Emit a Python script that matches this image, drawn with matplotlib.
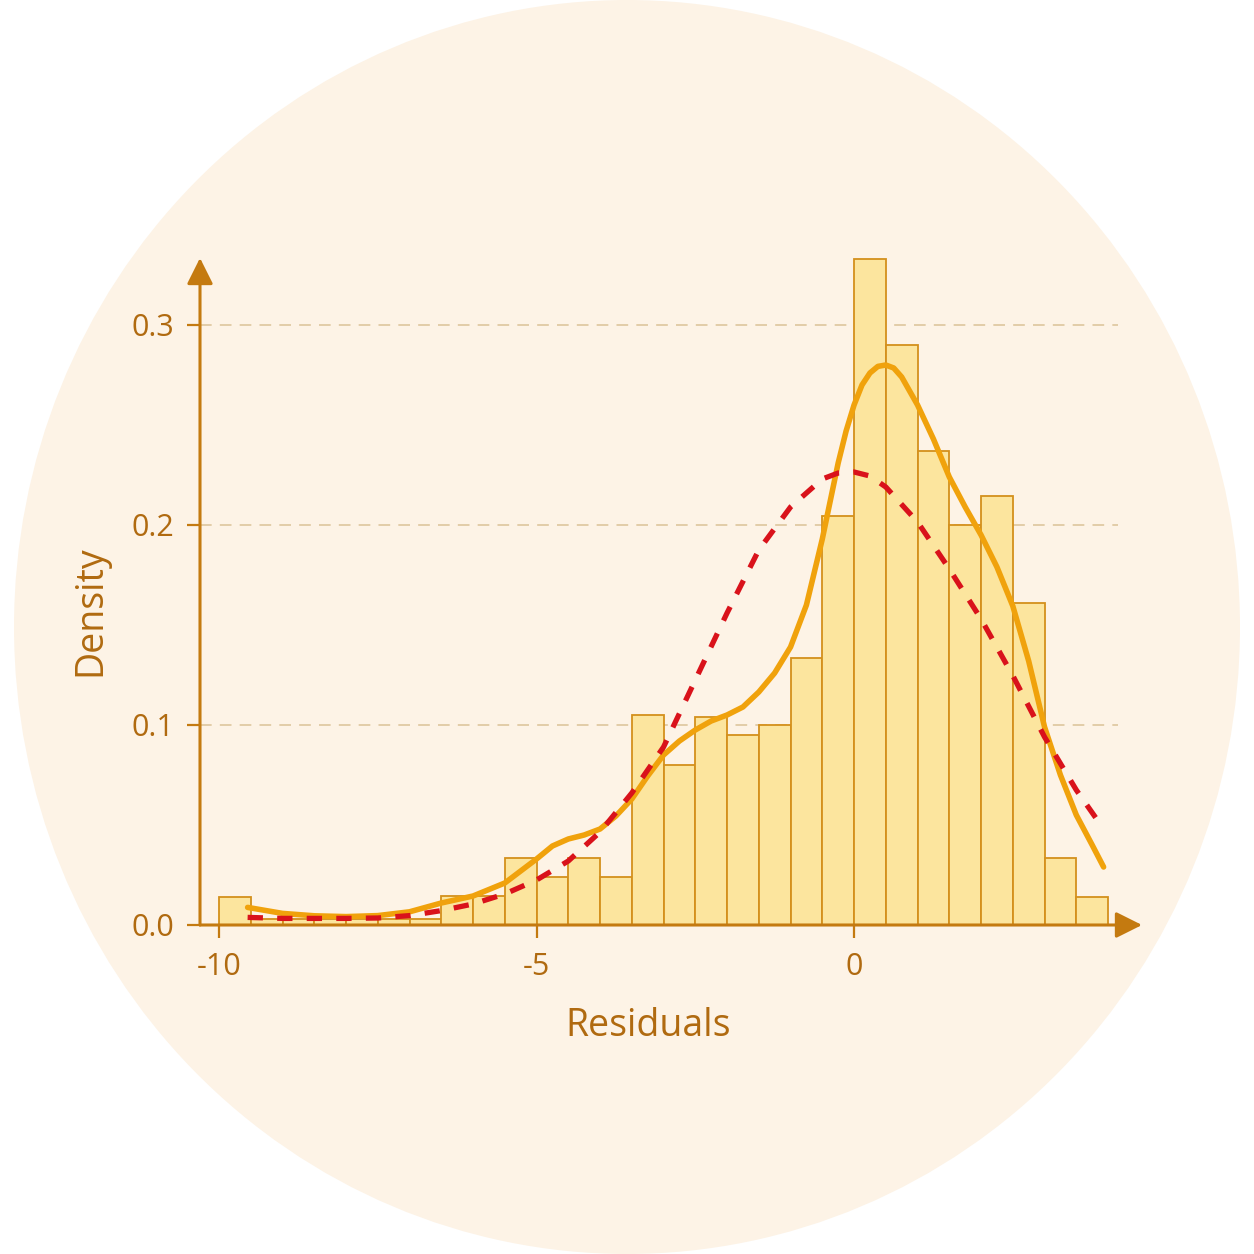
import matplotlib
matplotlib.use("Agg")
import matplotlib.pyplot as plt
from matplotlib.patches import Ellipse

# histogram bins (left edges, width 0.5) and densities
bin_edges = [-10.0, -9.5, -9.0, -8.5, -8.0, -7.5, -7.0, -6.5, -6.0, -5.5,
             -5.0, -4.5, -4.0, -3.5, -3.0, -2.5, -2.0, -1.5, -1.0, -0.5,
             0.0, 0.5, 1.0, 1.5, 2.0, 2.5, 3.0, 3.5, 4.0]
bin_density = [0.014, 0.003, 0.003, 0.003, 0.003, 0.003, 0.003, 0.0145, 0.0145,
               0.0335, 0.024, 0.0335, 0.024, 0.105, 0.080, 0.104, 0.095, 0.100,
               0.1335, 0.2045, 0.333, 0.290, 0.237, 0.200, 0.2145, 0.161,
               0.0335, 0.014]

# kernel density curve (solid orange)
kde_x = [-9.55, -9.0, -8.5, -8.0, -7.5, -7.0, -6.5, -6.0, -5.5, -5.0, -4.75,
         -4.5, -4.25, -4.0, -3.75, -3.5, -3.25, -3.0, -2.75, -2.5, -2.25, -2.0,
         -1.75, -1.5, -1.25, -1.0, -0.75, -0.5, -0.375, -0.25, -0.125, 0.0,
         0.125, 0.25, 0.375, 0.5, 0.625, 0.75, 1.0, 1.25, 1.5, 1.75, 2.0, 2.25,
         2.5, 2.75, 3.0, 3.25, 3.5, 3.75, 3.93]
kde_y = [0.0088, 0.0058, 0.0046, 0.0042, 0.0047, 0.0066, 0.0110, 0.0145, 0.0210,
         0.0330, 0.0395, 0.0430, 0.0450, 0.0480, 0.0545, 0.0630, 0.0745, 0.0850,
         0.0920, 0.0975, 0.1020, 0.1050, 0.1090, 0.1165, 0.1260, 0.1390, 0.1600,
         0.1930, 0.2120, 0.2310, 0.2470, 0.2600, 0.2700, 0.2760, 0.2793, 0.2800,
         0.2785, 0.2740, 0.2600, 0.2430, 0.2240, 0.2090, 0.1950, 0.1790, 0.1595,
         0.1320, 0.0990, 0.0750, 0.0550, 0.0400, 0.0290]

# normal fit curve (dashed red)
norm_x = [-9.55, -9.0, -8.5, -8.0, -7.5, -7.0, -6.5, -6.0, -5.5, -5.0, -4.5,
          -4.0, -3.5, -3.0, -2.5, -2.0, -1.5, -1.0, -0.5, -0.25, 0.0, 0.25,
          0.5, 1.0, 1.5, 2.0, 2.5, 3.0, 3.5, 3.93]
norm_y = [0.0038, 0.0033, 0.0033, 0.0033, 0.0035, 0.0047, 0.0072, 0.0105,
          0.0155, 0.0225, 0.0320, 0.0465, 0.0660, 0.0890, 0.1225, 0.1560,
          0.1875, 0.2090, 0.2230, 0.2260, 0.2265, 0.2245, 0.2190, 0.2015,
          0.1780, 0.1530, 0.1247, 0.0940, 0.0675, 0.0480]

x_ticks = [-10, -5, 0]
x_tick_labels = ["-10", "-5", "0"]
y_ticks = [0.0, 0.1, 0.2, 0.3]
y_tick_labels = ["0.0", "0.1", "0.2", "0.3"]
grid_levels = [0.1, 0.2, 0.3]

AXIS = "#C47A10"
TEXT = "#B06A10"
plt.rcParams["font.family"] = ["Open Sans", "DejaVu Sans"]

W = 1254
fig = plt.figure(figsize=(12.54, 12.54), dpi=100, facecolor="white")
fig.patches.append(Ellipse((0.5, 0.5), 1226 / W, 1.0, transform=fig.transFigure,
                           facecolor="#FDF3E6", edgecolor="none", zorder=-5))

ax = fig.add_axes([200 / W, 329 / W, 942 / W, 675 / W])
ax.set_facecolor("none")
ax.set_xlim(-10.3, -10.3 + 942 / 63.5)
ax.set_ylim(0, 0.3375)
for s in ax.spines.values():
    s.set_visible(False)

ax.hlines(grid_levels, -10.3, 4.16, colors="#E2CCA8", linewidth=1.4,
          linestyles=(0, (6, 4.2)), zorder=0)

ax.bar(bin_edges[:-1], bin_density, width=0.5, align="edge", color="#FCE59E",
       edgecolor="#D4901C", linewidth=1.3, zorder=2)

ax.plot(kde_x, kde_y, color="#F0A20C", linewidth=4.0, solid_capstyle="round",
        solid_joinstyle="round", zorder=3)
ax.plot(norm_x, norm_y, color="#D9121B", linewidth=3.8, linestyle=(0, (2.9, 2.7)),
        dash_joinstyle="round", zorder=4)

# axis lines with arrow heads
arrow = dict(arrowstyle="-|>,head_length=1.6,head_width=0.8", color=AXIS, lw=2.2,
             mutation_scale=10, shrinkA=0, shrinkB=0)
ax.annotate("", xy=(1, 0), xytext=(0, 0), xycoords="axes fraction",
            arrowprops=arrow, zorder=5)
ax.annotate("", xy=(0, 0.3335), xytext=(0, 0), xycoords=ax.get_yaxis_transform(),
            arrowprops=arrow, zorder=5)

ax.set_xticks(x_ticks, x_tick_labels)
ax.set_yticks(y_ticks, y_tick_labels)
ax.tick_params(axis="both", direction="out", length=9.5, width=1.6, color=AXIS,
               labelcolor=TEXT, labelsize=22)
ax.tick_params(axis="x", pad=10)
ax.tick_params(axis="y", pad=9)

ax.set_xlabel("Residuals", fontsize=27, color=TEXT, va="baseline")
ax.xaxis.set_label_coords(0.4756, -0.165)
ax.set_ylabel("Density", fontsize=27, color=TEXT, va="baseline")
ax.yaxis.set_label_coords(-0.106, 0.465)

fig.savefig("out.png", dpi=100, facecolor="white")
